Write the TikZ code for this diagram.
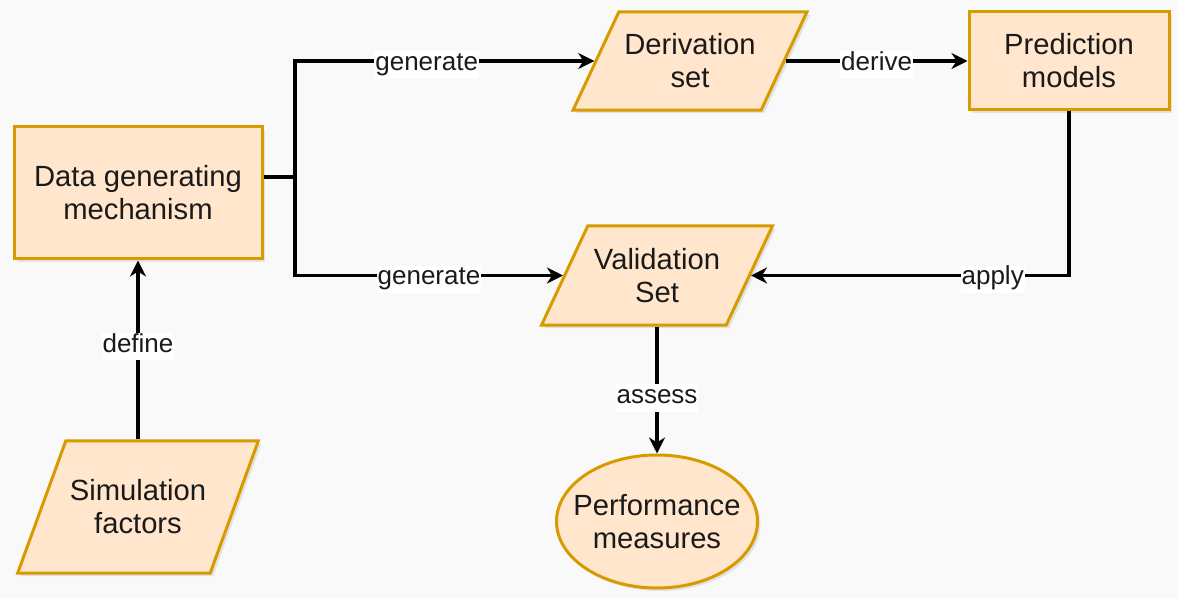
\documentclass[tikz,border=0pt]{standalone}
\usepackage{fontspec}
\setmainfont{Liberation Sans}
\usepackage{tikz}
\usetikzlibrary{arrows.meta}
\usetikzlibrary{shapes.geometric}
\usetikzlibrary{shadows}
\definecolor{boxfill}{RGB}{255,230,204}
\definecolor{boxline}{RGB}{215,155,0}
\definecolor{pagebg}{RGB}{249,249,249}
\definecolor{inktext}{RGB}{26,26,26}
\tikzset{%
  every box/.style={
    draw=boxline,
    fill=boxfill,
    line width=1.5pt,
    align=center,
    inner sep=2pt,
    text=inktext,
    font=\fontsize{14.6}{16.5}\selectfont,
    drop shadow={shadow xshift=1.5pt,shadow yshift=-1.5pt,fill=black!20}
  },
  procbox/.style={every box, rectangle},
  databox/.style={every box, trapezium,
    trapezium left angle=#1, trapezium right angle=180-#1,
    trapezium stretches body},
  endbox/.style={every box, ellipse, inner xsep=-7pt, inner ysep=0pt},
  flow/.style={line width=1.6pt, -{Stealth[length=8pt,width=8pt,inset=2.5pt]}},
  lbl/.style={fill=white, inner xsep=0.5pt, inner ysep=2pt,
    text height=0.75em, text depth=0.22em, text=inktext, yshift=-2pt,
    font=\fontsize{13}{15}\selectfont},
}

\begin{document}
\begin{tikzpicture}[x=0.5pt,y=-0.5pt]
    \fill[pagebg] (0,0) rectangle (1178,598);
    \useasboundingbox (0,0) rectangle (1178,598);

    \node (a) [procbox,minimum width=124pt,minimum height=66pt] at (138,193)
    {Data generating\\mechanism};
    \node (b) [databox=65,inner ysep=11pt,minimum width=117pt] at (690,61)
    {Derivation\\set};
    \node (c) [procbox,minimum width=100pt,minimum height=49pt] at (1069,61)
    {Prediction\\models};
    \node (d) [databox=65,inner ysep=11.2pt,minimum width=115.5pt] at (657,275.5)
    {Validation\\Set};
    \node (e) [databox=70,inner ysep=19.5pt,minimum width=120pt] at (138,507)
    {Simulation\\factors};
    \node (f) [endbox,minimum width=100.5pt,minimum height=66.5pt] at (657,521.5)
    {Performance\\measures};
    \coordinate (fork) at (295,177);

    \draw   [flow] (a.east |- fork) -- (fork) |- node[lbl,pos=0.72] {generate} (b.left side);
    \draw   [flow] (a.east |- fork) -- (fork) |- node[lbl,pos=0.75] {generate} (d.left side);
    \draw   [flow] (b.right side) -- node[lbl] {derive} (c.west);
    \draw   [flow] (c.south) |- node[lbl,pos=0.62] {apply} (d.right side);
    \draw   [flow] (d.center |- d.bottom side) -- node[lbl,pos=0.53] {assess} (f.north);
    \draw   [flow] (e.center |- e.top side) -- node[lbl,pos=0.54] {define} (a.south);
\end{tikzpicture}
\end{document}
